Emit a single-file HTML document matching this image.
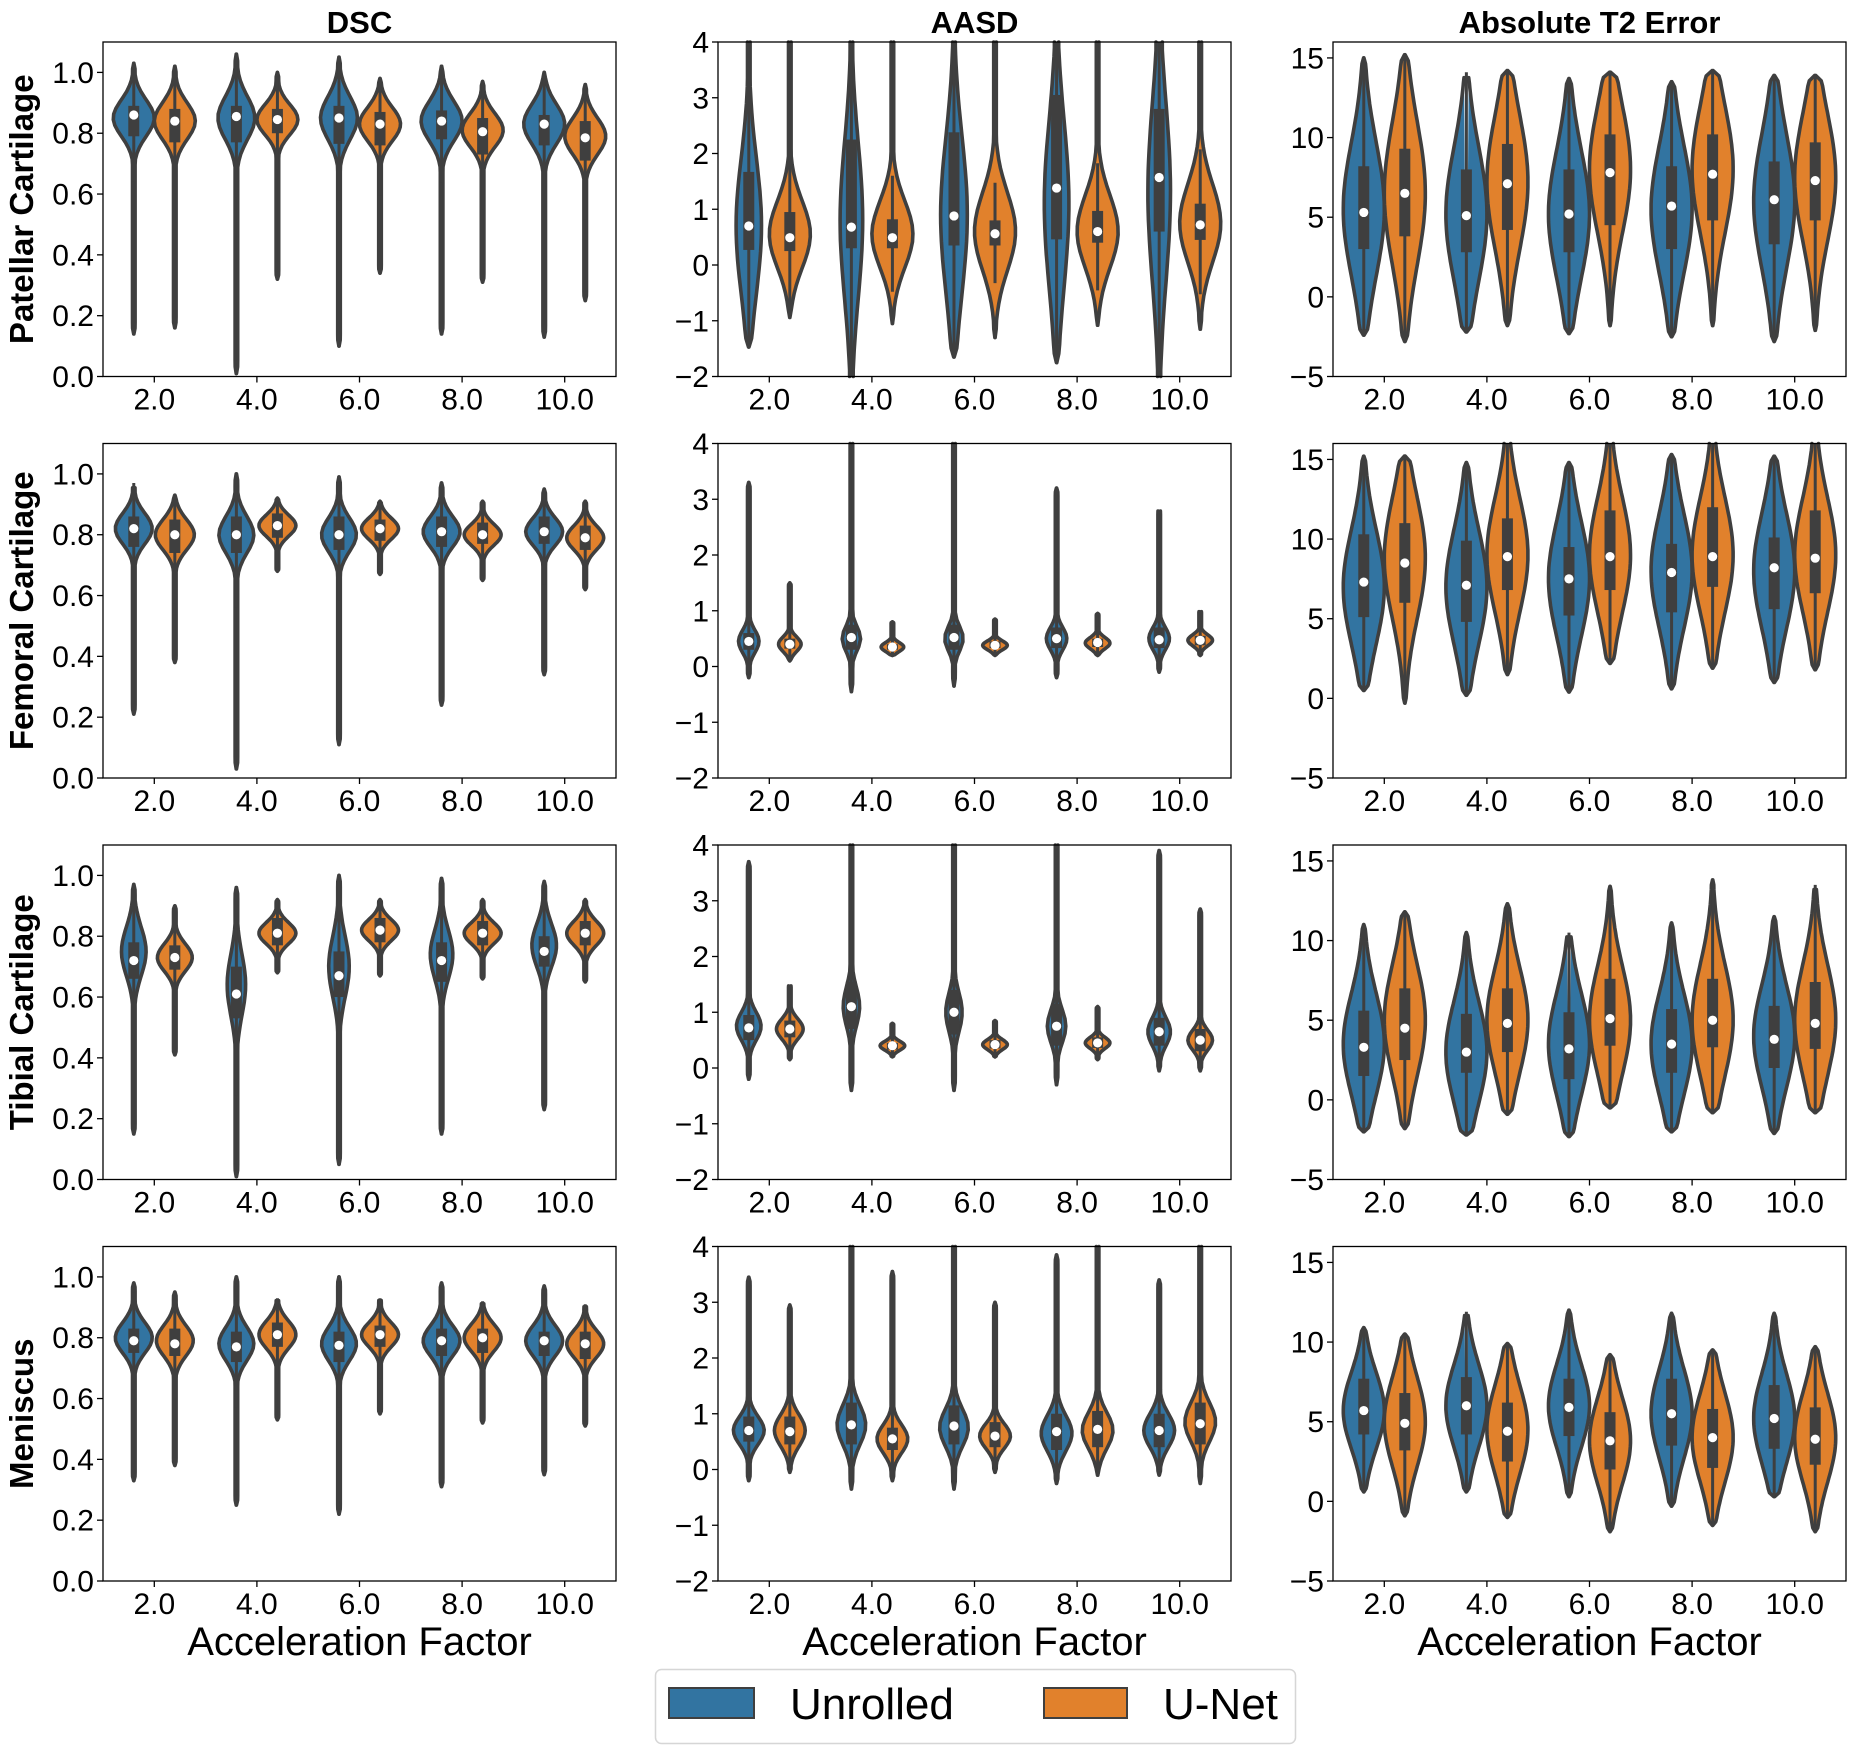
<!DOCTYPE html>
<html><head><meta charset="utf-8">
<style>
html,body{margin:0;padding:0;background:#fff;}
svg{display:block;font-family:"Liberation Sans",sans-serif;}
</style></head>
<body>
<svg id="fig" width="1856" height="1754" viewBox="0 0 1856 1754" xmlns="http://www.w3.org/2000/svg">
<rect x="0" y="0" width="1856" height="1754" fill="#fff"/>
<g id="panels"></g>
<g>
  <rect x="655.5" y="1669.5" width="640" height="74" rx="6" fill="#fff" stroke="#d6d6d6" stroke-width="1.5"/>
  <rect x="669" y="1688" width="85" height="30" fill="#3274a1" stroke="#3f3f3f" stroke-width="2"/>
  <text x="790" y="1719" font-size="44">Unrolled</text>
  <rect x="1044" y="1688" width="83" height="30" fill="#e1812c" stroke="#3f3f3f" stroke-width="2"/>
  <text x="1163" y="1719" font-size="44">U-Net</text>
</g>
</svg>
<script>
const categories = ['2.0','4.0','6.0','8.0','10.0'];
const series = ['Unrolled','U-Net'];
const rowNames = ['Patellar Cartilage','Femoral Cartilage','Tibial Cartilage','Meniscus'];
const colNames = ['DSC','AASD','Absolute T2 Error'];
const yDomains = [[0,1.1],[-2,4],[-5,16]];
const yTicks = [[0,0.2,0.4,0.6,0.8,1.0],[-2,-1,0,1,2,3,4],[-5,0,5,10,15]];
// tuple: [low, high, mode, spread, q1, median, q3, widthFactor]; order: 2.0 Unrolled, 2.0 U-Net, 4.0 Unrolled, ...
const dscPatellar = [
 [0.14,1.03,0.85,0.06,0.79,0.86,0.89,1],[0.16,1.02,0.84,0.06,0.77,0.84,0.88,1],
 [0.01,1.06,0.85,0.07,0.77,0.855,0.89,0.9],[0.32,1.0,0.845,0.05,0.80,0.845,0.88,1],
 [0.10,1.05,0.85,0.07,0.765,0.85,0.89,0.9],[0.34,0.98,0.83,0.055,0.76,0.83,0.87,1],
 [0.14,1.02,0.84,0.065,0.78,0.84,0.875,1],[0.31,0.97,0.81,0.055,0.73,0.805,0.85,1],
 [0.13,1.0,0.83,0.065,0.76,0.83,0.86,1],[0.25,0.96,0.79,0.06,0.71,0.785,0.84,1]];
const dscFemoral = [
 [0.21,0.97,0.82,0.05,0.76,0.82,0.86,0.9],[0.38,0.93,0.80,0.05,0.74,0.80,0.85,0.95],
 [0.03,1.0,0.80,0.06,0.74,0.80,0.86,0.85],[0.68,0.92,0.83,0.035,0.79,0.83,0.87,0.9],
 [0.11,0.99,0.80,0.055,0.75,0.80,0.86,0.85],[0.67,0.91,0.82,0.035,0.78,0.82,0.85,0.9],
 [0.24,0.97,0.81,0.05,0.76,0.81,0.86,0.9],[0.65,0.91,0.80,0.035,0.77,0.80,0.84,0.9],
 [0.34,0.95,0.81,0.045,0.77,0.81,0.86,0.9],[0.62,0.91,0.79,0.04,0.75,0.79,0.83,0.9]];
const dscTibial = [
 [0.15,0.97,0.75,0.08,0.66,0.72,0.78,0.6],[0.41,0.90,0.73,0.045,0.69,0.73,0.77,0.85],
 [0.01,0.96,0.64,0.1,0.53,0.61,0.70,0.45],[0.68,0.92,0.81,0.035,0.77,0.81,0.86,0.9],
 [0.05,1.0,0.70,0.1,0.60,0.67,0.75,0.5],[0.67,0.92,0.82,0.035,0.78,0.82,0.86,0.9],
 [0.15,0.99,0.74,0.08,0.65,0.72,0.78,0.55],[0.66,0.92,0.81,0.035,0.77,0.81,0.85,0.9],
 [0.23,0.98,0.77,0.07,0.70,0.75,0.80,0.6],[0.65,0.92,0.81,0.04,0.77,0.81,0.85,0.9]];
const dscMeniscus = [
 [0.33,0.98,0.80,0.05,0.75,0.79,0.83,0.9],[0.38,0.95,0.79,0.05,0.74,0.78,0.83,0.9],
 [0.25,1.0,0.78,0.055,0.72,0.77,0.82,0.85],[0.53,0.93,0.81,0.045,0.77,0.81,0.85,0.9],
 [0.22,1.0,0.78,0.055,0.72,0.775,0.82,0.85],[0.55,0.93,0.81,0.04,0.77,0.81,0.84,0.9],
 [0.31,0.98,0.79,0.05,0.74,0.79,0.83,0.9],[0.52,0.92,0.80,0.045,0.75,0.80,0.83,0.9],
 [0.35,0.97,0.79,0.05,0.74,0.79,0.82,0.9],[0.51,0.91,0.78,0.045,0.73,0.78,0.82,0.9]];
const aasdPatellar = [
 [-1.47,6,0.7,1.2,0.27,0.7,1.67,0.62],[-0.94,6,0.55,0.6,0.25,0.49,0.95,1],
 [-2.6,6,0.8,1.4,0.3,0.68,2.25,0.55],[-1.05,6,0.55,0.6,0.3,0.49,0.82,1],
 [-1.65,6,0.9,1.4,0.35,0.88,2.38,0.65],[-1.3,6,0.6,0.7,0.35,0.56,0.8,1],
 [-1.75,6,1.1,1.5,0.46,1.38,3.05,0.6],[-1.08,6,0.6,0.65,0.4,0.6,0.97,1],
 [-2.6,6,1.3,1.6,0.6,1.57,2.8,0.55],[-1.15,6,0.75,0.7,0.45,0.72,1.1,1]];
const aasdFemoral = [
 [-0.2,3.3,0.45,0.2,0.3,0.45,0.6,0.5],[0.1,1.5,0.4,0.13,0.32,0.4,0.5,0.55],
 [-0.45,6,0.5,0.22,0.3,0.52,0.75,0.45],[0.2,0.8,0.35,0.08,0.3,0.35,0.4,0.55],
 [-0.35,6,0.5,0.22,0.3,0.52,0.75,0.45],[0.2,0.85,0.38,0.08,0.33,0.38,0.45,0.6],
 [-0.2,3.2,0.5,0.2,0.33,0.5,0.7,0.5],[0.2,0.95,0.42,0.1,0.35,0.43,0.5,0.6],
 [-0.1,2.85,0.5,0.2,0.33,0.48,0.7,0.5],[0.2,1.0,0.47,0.1,0.38,0.47,0.55,0.6]];
const aasdTibial = [
 [-0.2,3.7,0.75,0.25,0.5,0.72,0.95,0.6],[0.15,1.5,0.7,0.18,0.55,0.7,0.85,0.65],
 [-0.4,6,1.1,0.35,0.7,1.1,1.55,0.4],[0.2,0.8,0.4,0.08,0.33,0.4,0.45,0.6],
 [-0.4,6,1.0,0.35,0.6,1.0,1.4,0.4],[0.2,0.85,0.42,0.09,0.35,0.42,0.5,0.6],
 [-0.3,6,0.75,0.3,0.4,0.75,1.15,0.45],[0.15,1.1,0.45,0.1,0.36,0.45,0.55,0.6],
 [-0.05,3.9,0.65,0.25,0.4,0.65,0.9,0.55],[-0.05,2.85,0.5,0.18,0.3,0.5,0.7,0.6]];
const aasdMeniscus = [
 [-0.2,3.45,0.7,0.25,0.5,0.7,0.95,0.75],[-0.05,2.95,0.7,0.28,0.45,0.68,0.95,0.75],
 [-0.35,6,0.8,0.35,0.45,0.8,1.2,0.7],[-0.2,3.55,0.55,0.25,0.35,0.55,0.75,0.75],
 [-0.35,6,0.75,0.33,0.45,0.78,1.15,0.7],[-0.05,3.0,0.6,0.22,0.4,0.6,0.85,0.75],
 [-0.25,3.85,0.65,0.32,0.35,0.68,1.0,0.75],[-0.1,6,0.7,0.32,0.4,0.72,1.05,0.75],
 [-0.1,3.4,0.7,0.3,0.4,0.7,1.0,0.75],[-0.25,6,0.85,0.35,0.45,0.82,1.2,0.75]];
const t2Patellar = [
 [-2.4,15,5.5,4.2,3,5.3,8.2,1],[-2.8,15.2,6.5,4.5,3.8,6.5,9.3,1],
 [-2.2,14.1,5.2,4.2,2.8,5.1,8,1],[-1.8,14.2,7.2,4.2,4.2,7.1,9.6,1],
 [-2.3,13.7,5.2,4,2.8,5.2,8,1],[-1.8,14.1,8,4,4.5,7.8,10.2,1],
 [-2.5,13.5,5.5,4,3,5.7,8.2,1],[-1.8,14.2,8,4,4.8,7.7,10.2,1],
 [-2.8,13.9,6,4.2,3.3,6.1,8.5,1],[-2.1,13.9,7.5,4,4.8,7.3,9.7,1]];
const t2Femoral = [
 [0.5,15.2,7,3.6,5.1,7.3,10.3,1],[-0.3,15.2,8.8,3.8,6,8.5,11,1],
 [0.2,14.8,7,3.6,4.8,7.1,9.9,1],[1.5,16.5,9,3.6,6.8,8.9,11.3,1],
 [0.4,14.8,7.5,3.6,5.2,7.5,9.5,1],[2.2,16.5,9,3.6,6.8,8.9,11.8,1],
 [0.6,15.3,8,3.6,5.4,7.9,9.7,1],[1.9,16.5,9,3.6,7,8.9,12,1],
 [1,15.2,8,3.6,5.6,8.2,10.1,1],[1.8,16.5,9,3.6,6.6,8.8,11.8,1]];
const t2Tibial = [
 [-2,11,3.5,3.2,1.5,3.3,5.6,1],[-1.8,11.8,5,3.5,2.5,4.5,7,1],
 [-2.2,10.5,3,3.2,1.7,3,5.4,1],[-0.9,12.3,5,3.3,3,4.8,7,1],
 [-2.3,10.5,3.5,3.2,1.3,3.2,5.5,1],[-0.5,13.4,5,3.4,3.4,5.1,7.6,1],
 [-2,11.1,3.5,3.2,1.7,3.5,5.7,1],[-0.8,13.8,5,3.5,3.3,5,7.6,1],
 [-2.1,11.5,4,3.2,2,3.8,5.9,1],[-0.8,13.5,5,3.5,3.2,4.8,7.4,1]];
const t2Meniscus = [
 [0.6,10.9,5.7,2.4,4.2,5.7,7.7,1],[-0.9,10.5,5,2.8,3.2,4.9,6.8,1],
 [0.6,11.9,6,2.6,4.2,6,7.8,1],[-1,9.9,4.5,2.8,2.5,4.4,6.2,1],
 [0.3,12,6,2.6,4.1,5.9,7.7,1],[-1.9,9.2,3.8,2.7,2,3.8,5.6,1],
 [-0.3,11.8,5.5,2.8,3.5,5.5,7.7,1],[-1.5,9.5,4,2.8,2.1,4,5.8,1],
 [0.3,11.8,5.2,2.8,3.3,5.2,7.3,1],[-1.9,9.7,4,2.8,2.3,3.9,5.9,1]];

const panelData = [
 [dscPatellar, aasdPatellar, t2Patellar],
 [dscFemoral, aasdFemoral, t2Femoral],
 [dscTibial, aasdTibial, t2Tibial],
 [dscMeniscus, aasdMeniscus, t2Meniscus]];

const NS = 'http://www.w3.org/2000/svg';
const colLeft = [103, 718, 1333];
const rowTop = [42, 443.5, 845, 1246.5];
const PW = 513, PH = 334.5;
const colors = ['#3274a1', '#e1812c'];
const edge = '#3f3f3f';
const root = document.getElementById('panels');

function mk(tag, attrs, parent) {
  const e = document.createElementNS(NS, tag);
  for (const k in attrs) e.setAttribute(k, attrs[k]);
  parent.appendChild(e);
  return e;
}
function fmt(v, c) {
  const s = c === 0 ? v.toFixed(1) : String(Math.round(v));
  return s.replace('-', '\u2212');
}

for (let r = 0; r < 4; r++) {
  for (let c = 0; c < 3; c++) {
    const L = colLeft[c], T = rowTop[r];
    const [d0, d1] = yDomains[c];
    const yS = v => T + PH - (v - d0) / (d1 - d0) * PH;
    const band = PW / categories.length;
    const xS = (i, h) => L + (i + 0.5) * band + (h === 0 ? -0.2 : 0.2) * band;
    const g = mk('g', {}, root);
    
    
    const vg = mk('g', {}, g);
    const data = panelData[r][c];
    const maxHW = 0.2 * band;
    data.forEach((v, k) => {
      const i = Math.floor(k / 2), h = k % 2;
      const [lo, hi, mode, sd, q1, med, q3, wf] = v;
      const cx = xS(i, h);
      const N = 48, ys = [], hws = [];
      for (let s = 0; s <= N; s++) {
        const y = lo + (hi - lo) * s / N;
        if (y < d0 - 1e-9 || y > d1 + 1e-9) continue;
        const gss = Math.exp(-0.5 * Math.pow((y - mode) / sd, 2));
        const dEnd = Math.min(y - lo, hi - y);
        const tap = Math.sqrt(Math.min(1, dEnd / (0.025 * (hi - lo))));
        ys.push(yS(y));
        hws.push(Math.max(maxHW * wf * gss, 1.3) * Math.max(tap, 0.1));
      }
      if (lo < d0) { ys.unshift(yS(d0)); hws.unshift(hws[0]); }
      if (hi > d1) { ys.push(yS(d1)); hws.push(hws[hws.length - 1]); }
      const M = ys.length - 1;
      const vg2 = mk('g', {}, vg);
      
      
      for (const sgn of [1, -1]) {
        const pts = [];
        for (let s = 0; s <= M; s++) pts.push((cx + sgn * hws[s]).toFixed(1) + ',' + ys[s].toFixed(1));
        pts.push((cx - sgn * 0.6).toFixed(1) + ',' + ys[M].toFixed(1));
        pts.push((cx - sgn * 0.6).toFixed(1) + ',' + ys[0].toFixed(1));
        const half = mk('polygon', {points: pts.join(' '), fill: colors[h]}, vg2);
        
        
      }
      // outline: two monotonic polylines, one per side (no sharp reversals)
      for (const sgn of [1, -1]) {
        const pts = [];
        for (let s = 0; s <= M; s++) pts.push((cx + sgn * hws[s]).toFixed(1) + ',' + ys[s].toFixed(1));
        const ol = mk('polyline', {points: pts.join(' '), fill: 'none', stroke: edge, 'stroke-width': 3.6, 'stroke-linejoin': 'round', 'stroke-linecap': 'round'}, vg2);
        
        
      }
      const iqr = q3 - q1;
      const wlo = Math.max(lo, q1 - 1.5 * iqr, d0), whi = Math.min(hi, q3 + 1.5 * iqr, d1);
      const wl = mk('line', {x1: cx, x2: cx, y1: yS(wlo), y2: yS(whi), stroke: edge, 'stroke-width': 3}, vg2);
      
      
      const bx = mk('rect', {x: cx - 5.5, y: yS(Math.min(q3, d1)), width: 11, height: Math.max(1, yS(q1) - yS(Math.min(q3, d1))), fill: edge}, vg2);
      
      
      const md = mk('circle', {cx: cx, cy: yS(med), r: 4.6, fill: '#fff'}, vg2);
      
      
    });
    const frame = mk('rect', {x: L, y: T, width: PW, height: PH, fill: 'none', stroke: '#000', 'stroke-width': 1.3}, g);
    
    
    yTicks[c].forEach(t => {
      const y = yS(t);
      mk('line', {x1: L - 6, x2: L, y1: y, y2: y, stroke: '#000', 'stroke-width': 1.3}, g);
      const tx = mk('text', {x: L - 9, y: y + 10.5, 'font-size': 30, 'text-anchor': 'end'}, g);
      tx.textContent = fmt(t, c);
      
      
    });
    categories.forEach((cat, i) => {
      const x = L + (i + 0.5) * band;
      mk('line', {x1: x, x2: x, y1: T + PH, y2: T + PH + 6, stroke: '#000', 'stroke-width': 1.3}, g);
      const tx = mk('text', {x: x, y: T + PH + 33, 'font-size': 30, 'text-anchor': 'middle'}, g);
      tx.textContent = cat;
      
      
    });
    if (r === 0) {
      const tt = mk('text', {x: L + PW / 2, y: 33, 'font-size': 31, 'font-weight': 'bold', 'text-anchor': 'middle'}, g);
      tt.textContent = colNames[c];
      
      
    }
    if (r === 3) {
      const xl = mk('text', {x: L + PW / 2, y: 1655, 'font-size': 40, 'text-anchor': 'middle'}, g);
      xl.textContent = 'Acceleration Factor';
      
      
    }
    if (c === 0) {
      const cy = T + PH / 2;
      const yl = mk('text', {x: 0, y: 0, 'font-size': 33, 'font-weight': 'bold', 'text-anchor': 'middle', transform: 'translate(33,' + cy + ') rotate(-90)'}, g);
      yl.textContent = rowNames[r];
      
      
    }
  }
}
</script>
</body></html>
